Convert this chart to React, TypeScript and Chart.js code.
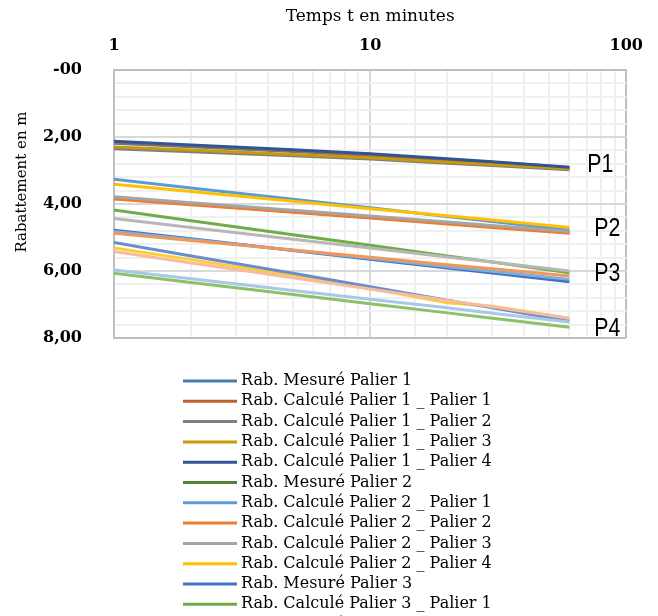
import React, { useEffect, useRef } from "react";
import { Chart, registerables } from "chart.js";

Chart.register(...registerables);

// ---- data ----
const times = [1, 2, 5, 10, 20, 30, 60];

const seriesNames = [
  "Rab. Mesuré Palier 1",
  "Rab. Calculé Palier 1 _ Palier 1",
  "Rab. Calculé Palier 1 _ Palier 2",
  "Rab. Calculé Palier 1 _ Palier 3",
  "Rab. Calculé Palier 1 _ Palier 4",
  "Rab. Mesuré Palier 2",
  "Rab. Calculé Palier 2 _ Palier 1",
  "Rab. Calculé Palier 2 _ Palier 2",
  "Rab. Calculé Palier 2 _ Palier 3",
  "Rab. Calculé Palier 2 _ Palier 4",
  "Rab. Mesuré Palier 3",
  "Rab. Calculé Palier 3 _ Palier 1",
  "Rab. Calculé Palier 3 _ Palier 2",
  "Rab. Calculé Palier 3 _ Palier 3",
  "Rab. Calculé Palier 3 _ Palier 4",
  "Rab. Mesuré Palier 4",
  "Rab. Calculé Palier 4 _ Palier 1",
  "Rab. Calculé Palier 4 _ Palier 2",
  "Rab. Calculé Palier 4 _ Palier 3",
  "Rab. Calculé Palier 4 _ Palier 4",
];

const seriesColors = [
  "#4A7EAC", "#C0602A", "#7F7F7F", "#C99A06", "#2F5597",
  "#548235", "#5B9BD5", "#ED7D31", "#A5A5A5", "#FFC000",
  "#4472C4", "#70AD47", "#7CAFDD", "#F1975A", "#B7B7B7",
  "#FFCD33", "#698ED0", "#8CC168", "#A8C8E8", "#F6BC9C",
];

const mesure1 = [2.19, 2.29, 2.43, 2.55, 2.69, 2.77, 2.93];
const calc1_1 = [2.15, 2.26, 2.40, 2.52, 2.67, 2.75, 2.91];
const calc1_2 = [2.35, 2.44, 2.56, 2.66, 2.78, 2.85, 2.98];
const calc1_3 = [2.30, 2.39, 2.52, 2.62, 2.75, 2.82, 2.95];
const calc1_4 = [2.13, 2.24, 2.38, 2.50, 2.65, 2.74, 2.90];

const mesure2 = [3.82, 4.00, 4.23, 4.40, 4.57, 4.68, 4.85];
const calc2_1 = [3.26, 3.52, 3.86, 4.11, 4.37, 4.52, 4.78];
const calc2_2 = [3.85, 4.02, 4.25, 4.42, 4.60, 4.70, 4.87];
const calc2_3 = [3.78, 3.96, 4.19, 4.36, 4.54, 4.64, 4.82];
const calc2_4 = [3.41, 3.63, 3.92, 4.14, 4.35, 4.48, 4.70];

const mesure3 = [4.78, 5.04, 5.39, 5.65, 5.91, 6.06, 6.32];
const calc3_1 = [4.18, 4.50, 4.92, 5.23, 5.55, 5.73, 6.05];
const calc3_2 = [4.82, 5.06, 5.38, 5.62, 5.87, 6.01, 6.25];
const calc3_3 = [4.87, 5.09, 5.37, 5.59, 5.81, 5.93, 6.15];
const calc3_4 = [4.43, 4.70, 5.05, 5.31, 5.58, 5.73, 6.00];

const mesure4 = [5.31, 5.66, 6.14, 6.52, 6.95, 7.05, 7.42];
const calc4_1 = [5.15, 5.55, 6.07, 6.47, 6.87, 7.10, 7.50];
const calc4_2 = [6.07, 6.34, 6.70, 6.98, 7.25, 7.41, 7.68];
const calc4_3 = [5.97, 6.23, 6.58, 6.84, 7.10, 7.26, 7.52];
const calc4_4 = [5.42, 5.76, 6.20, 6.54, 6.88, 7.07, 7.41];

const seriesValues = [
  mesure1, calc1_1, calc1_2, calc1_3, calc1_4,
  mesure2, calc2_1, calc2_2, calc2_3, calc2_4,
  mesure3, calc3_1, calc3_2, calc3_3, calc3_4,
  mesure4, calc4_1, calc4_2, calc4_3, calc4_4,
];

const xTickLabels = ["1", "10", "100"];
const yTickLabels = ["-00", "2,00", "4,00", "6,00", "8,00"];
const groupLabels = ["P1", "P2", "P3", "P4"];
const groupLabelValues = [2.81, 4.72, 6.06, 7.7];

const xTitle = "Temps t en minutes";
const yTitle = "Rabattement en m";

const SERIF = "'DejaVu Serif', serif";

const overlayPlugin = {
  id: "overlay",
  afterDraw(chart: any) {
    const ctx = chart.ctx as CanvasRenderingContext2D;
    const area = chart.chartArea;
    const yScale = chart.scales.y;
    ctx.save();
    // axis titles
    ctx.fillStyle = "#000";
    ctx.textAlign = "center";
    ctx.textBaseline = "middle";
    ctx.font = `17px ${SERIF}`;
    ctx.fillText(xTitle, (area.left + area.right) / 2, 17);
    ctx.save();
    ctx.translate(22, 182);
    ctx.rotate(-Math.PI / 2);
    ctx.font = `15px ${SERIF}`;
    ctx.fillText(yTitle, 0, 0);
    ctx.restore();

    // group labels
    groupLabels.forEach((lab, i) => {
      const y = yScale.getPixelForValue(groupLabelValues[i]);
      const x = area.right - (i === 0 ? 39 : 32);
      ctx.save();
      ctx.translate(x, y);
      ctx.scale(0.82, 1);
      ctx.font = `26px 'Liberation Sans', sans-serif`;
      ctx.textAlign = "left";
      ctx.textBaseline = "middle";
      ctx.fillStyle = "#000";
      ctx.fillText(lab, 0, 1);
      ctx.restore();
    });

    // legend
    const ds = chart.data.datasets;
    ds.forEach((d: any, i: number) => {
      const y = area.bottom + 43 + i * 20.3;
      ctx.strokeStyle = d.borderColor;
      ctx.lineWidth = 3;
      ctx.lineCap = "butt";
      ctx.beginPath();
      ctx.moveTo(183, y);
      ctx.lineTo(237, y);
      ctx.stroke();
      ctx.fillStyle = "#000";
      ctx.font = `16px ${SERIF}`;
      ctx.textAlign = "left";
      ctx.textBaseline = "middle";
      ctx.fillText(d.label, 241, y);
    });
    ctx.restore();
  },
};

export default function App() {
  const ref = useRef<HTMLCanvasElement>(null);
  useEffect(() => {
    const datasets = seriesNames.map((name, i) => ({
      label: name,
      data: times.map((t, j) => ({ x: t, y: seriesValues[i][j] })),
      borderColor: seriesColors[i],
      backgroundColor: seriesColors[i],
      borderWidth: 3,
      pointRadius: 0,
      tension: 0,
      fill: false,
      order: seriesNames.length - i,
    }));
    const chart = new Chart(ref.current as HTMLCanvasElement, {
      type: "line",
      data: { datasets },
      options: {
        animation: false,
        responsive: false,
        devicePixelRatio: 1,
        layout: { padding: { left: 0, top: 0, right: 26, bottom: 278 } },
        plugins: { legend: { display: false }, tooltip: { enabled: false }, title: { display: false } },
        scales: {
          x: {
            type: "logarithmic",
            position: "top",
            min: 1,
            max: 100,
            afterFit: (s: any) => { s.height = 70; },
            border: { color: "#bfbfbf", width: 2 },
            grid: {
              drawTicks: false,
              lineWidth: 2,
              color: (c: any) => {
                const v = c.tick ? c.tick.value : 0;
                if (Math.abs(v - 100) < 1e-6 || Math.abs(v - 1) < 1e-6) return "#bfbfbf";
                if (Math.abs(v - 10) < 1e-6) return "#d9d9d9";
                return "#efefef";
              },
            },
            ticks: {
              autoSkip: false,
              maxRotation: 0,
              padding: 15,
              color: "#000",
              font: { family: SERIF, size: 16, weight: "bold" },
              callback: (v: any) => {
                const l = Math.log10(Number(v));
                if (Math.abs(l - Math.round(l)) < 1e-9) return xTickLabels[Math.round(l)] ?? "";
                return "";
              },
            },
          },
          y: {
            type: "linear",
            reverse: true,
            min: 0,
            max: 8,
            afterFit: (s: any) => { s.width = 114; },
            border: { color: "#bfbfbf", width: 2 },
            grid: {
              drawTicks: false,
              lineWidth: 2,
              color: (c: any) => {
                const v = c.tick ? c.tick.value : 0;
                if (Math.abs(v) < 1e-6 || Math.abs(v - 8) < 1e-6) return "#bfbfbf";
                if (Math.abs(v / 2 - Math.round(v / 2)) < 1e-6) return "#d9d9d9";
                return "#f0f0f0";
              },
            },
            ticks: {
              stepSize: 0.4,
              autoSkip: false,
              padding: 32,
              color: "#000",
              font: { family: SERIF, size: 16, weight: "bold" },
              callback: (v: any) => {
                const n = Number(v) / 2;
                if (Math.abs(n - Math.round(n)) < 1e-6) return yTickLabels[Math.round(n)] ?? "";
                return "";
              },
            },
          },
        },
      },
      plugins: [overlayPlugin],
    } as any);
    return () => chart.destroy();
  }, []);
  return (
    <div style={{ position: "fixed", left: 0, top: 0, width: 658, height: 616, background: "#fff", overflow: "hidden" }}>
      <canvas ref={ref} width={658} height={616} style={{ display: "block", width: 658, height: 616 }} />
    </div>
  );
}
